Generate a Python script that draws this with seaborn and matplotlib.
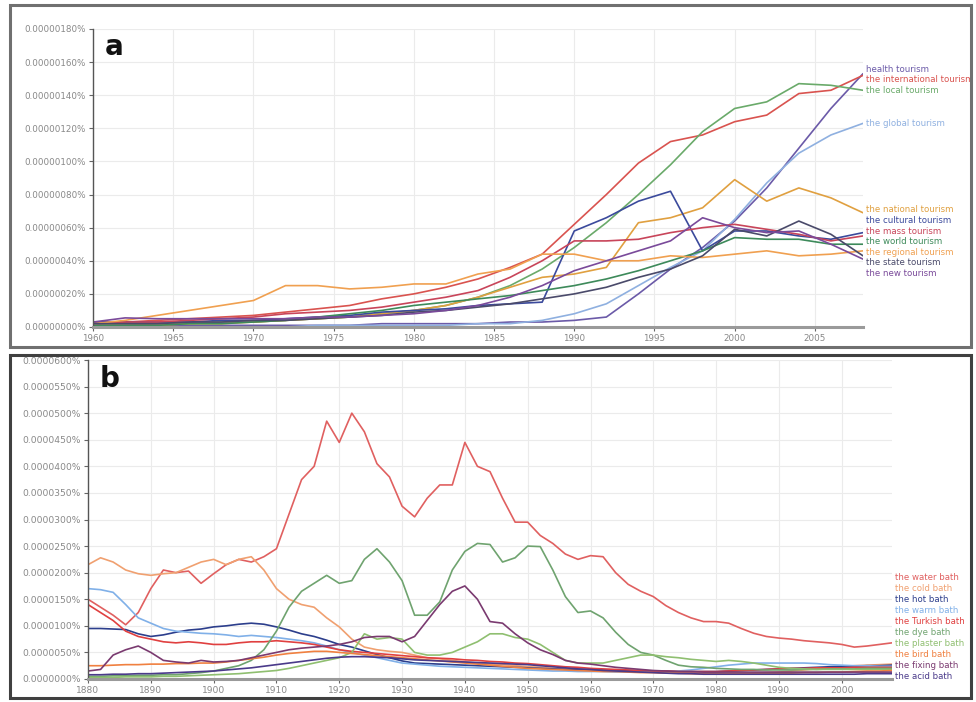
import numpy as np
import pandas as pd
import matplotlib
matplotlib.use("Agg")
import matplotlib.pyplot as plt
import matplotlib.transforms as mtransforms
from matplotlib.patches import Rectangle
from matplotlib.ticker import FuncFormatter, MultipleLocator
import seaborn as sns

# ---------------- data: panel a (units of 0.0000001 %) ----------------
years_a = list(range(1960, 2009, 2))
names_a = ["health tourism", "the international tourism", "the local tourism",
           "the global tourism", "the national tourism", "the cultural tourism",
           "the mass tourism", "the world tourism", "the regional tourism",
           "the state tourism", "the new tourism"]
health_tourism = [0.1,0.1,0.1,0.1,0.1,0.1,0.1,0.1,0.1,0.2,0.2,0.2,0.2,0.3,0.3,0.4,0.6,2.0,3.5,4.8,6.4,8.4,10.8,13.2,15.3]
international_tourism = [0.3,0.3,0.4,0.5,0.6,0.7,0.9,1.1,1.3,1.7,2.0,2.4,2.9,3.6,4.4,6.2,8.0,9.9,11.2,11.6,12.4,12.8,14.1,14.3,15.2]
local_tourism = [0.1,0.1,0.2,0.2,0.3,0.3,0.4,0.5,0.6,0.8,1.0,1.3,1.8,2.5,3.5,4.8,6.3,8.0,9.8,11.8,13.2,13.6,14.7,14.6,14.3]
global_tourism = [0.0,0.0,0.0,0.0,0.0,0.0,0.0,0.1,0.1,0.1,0.1,0.1,0.2,0.2,0.4,0.8,1.4,2.5,3.6,4.6,6.5,8.7,10.5,11.6,12.3]
national_tourism = [0.1,0.1,0.1,0.2,0.2,0.3,0.4,0.5,0.6,0.8,1.0,1.3,1.8,2.4,3.0,3.2,3.6,6.3,6.6,7.2,8.9,7.6,8.4,7.8,6.9]
cultural_tourism = [0.3,0.3,0.3,0.3,0.4,0.4,0.5,0.6,0.7,0.9,1.0,1.1,1.3,1.4,1.5,5.8,6.6,7.6,8.2,4.6,5.8,5.8,5.5,5.3,5.7]
mass_tourism = [0.2,0.3,0.3,0.4,0.5,0.6,0.8,0.9,1.0,1.2,1.5,1.8,2.2,3.0,4.0,5.2,5.2,5.3,5.7,6.0,6.2,5.9,5.6,5.2,5.5]
world_tourism = [0.1,0.1,0.1,0.2,0.2,0.3,0.4,0.6,0.8,1.0,1.3,1.5,1.7,1.9,2.2,2.5,2.9,3.4,4.0,4.6,5.4,5.3,5.3,5.0,5.0]
regional_tourism = [0.2,0.4,0.7,1.0,1.3,1.6,2.5,2.5,2.3,2.4,2.6,2.6,3.2,3.5,4.4,4.4,4.0,4.0,4.3,4.2,4.4,4.6,4.3,4.4,4.6]
state_tourism = [0.2,0.2,0.2,0.3,0.3,0.4,0.4,0.5,0.6,0.7,0.9,1.0,1.2,1.4,1.7,2.0,2.4,3.0,3.5,4.3,5.9,5.5,6.4,5.6,4.3]
new_tourism = [0.3,0.55,0.5,0.5,0.5,0.5,0.5,0.6,0.6,0.7,0.8,1.0,1.3,1.8,2.5,3.4,4.0,4.6,5.2,6.6,6.0,5.7,5.8,5.0,4.1]
series_a = [health_tourism, international_tourism, local_tourism, global_tourism,
            national_tourism, cultural_tourism, mass_tourism, world_tourism,
            regional_tourism, state_tourism, new_tourism]
ticks_a_x = list(range(1960, 2006, 5))

# ---------------- data: panel b (units of 0.000001 %) ----------------
years_b = list(range(1880, 2009, 2))
names_b = ["the water bath", "the cold bath", "the hot bath", "the warm bath",
           "the Turkish bath", "the dye bath", "the plaster bath", "the bird bath",
           "the fixing bath", "the acid bath"]
water_bath = [15.0,13.5,12.0,10.2,12.5,17.0,20.5,20.0,20.3,18.0,
              19.8,21.5,22.5,22.0,23.0,24.5,31.0,37.5,40.0,48.5,
              44.5,50.0,46.5,40.5,38.0,32.5,30.5,34.0,36.5,36.5,
              44.5,40.0,39.0,34.0,29.5,29.5,27.0,25.5,23.5,22.5,
              23.2,23.0,20.0,17.8,16.5,15.5,13.8,12.5,11.5,10.8,
              10.8,10.5,9.5,8.6,8.0,7.7,7.5,7.2,7.0,6.8,
              6.5,6.0,6.2,6.5,6.8]
cold_bath = [21.5,22.8,22.0,20.5,19.8,19.5,19.8,20.0,21.0,22.0,
             22.5,21.5,22.5,23.0,20.5,17.0,15.0,14.0,13.5,11.5,
             9.8,7.5,6.0,5.5,5.2,5.0,4.5,4.0,3.8,3.5,
             3.2,3.0,2.8,2.7,2.5,2.3,2.2,2.0,1.9,1.8,
             1.7,1.6,1.5,1.4,1.3,1.3,1.2,1.1,1.1,1.0,
             1.0,1.0,1.0,1.1,1.2,1.3,1.5,1.7,1.9,2.1,
             2.3,2.5,2.6,2.7,2.8]
hot_bath = [9.5,9.5,9.4,9.3,8.5,8.0,8.3,8.8,9.2,9.4,
            9.8,10.0,10.3,10.5,10.3,9.8,9.2,8.5,8.0,7.3,
            6.5,6.0,5.3,4.6,4.0,3.4,3.0,2.9,2.8,2.7,
            2.6,2.5,2.4,2.3,2.2,2.1,2.0,1.9,1.8,1.8,
            1.7,1.7,1.6,1.6,1.5,1.5,1.5,1.4,1.4,1.4,
            1.4,1.5,1.6,1.7,1.8,1.9,2.0,2.1,2.2,2.3,
            2.4,2.4,2.5,2.5,2.6]
warm_bath = [17.0,16.8,16.3,14.0,11.5,10.5,9.5,9.0,8.8,8.6,
             8.5,8.3,8.0,8.2,8.0,7.8,7.5,7.2,6.8,6.2,
             5.5,5.0,4.5,4.0,3.5,3.0,2.8,2.6,2.4,2.3,
             2.2,2.1,2.0,1.9,1.8,1.7,1.6,1.5,1.5,1.4,
             1.4,1.4,1.3,1.3,1.3,1.3,1.4,1.5,1.7,2.0,
             2.3,2.6,2.8,3.0,3.0,3.0,3.0,3.0,2.9,2.7,
             2.6,2.5,2.5,2.4,2.4]
turkish_bath = [14.0,12.5,11.0,9.0,8.0,7.5,7.0,6.8,7.0,6.8,
                6.5,6.5,6.8,7.0,7.0,7.2,7.0,6.8,6.5,6.0,
                5.5,5.2,5.0,4.8,4.6,4.4,4.2,4.0,3.9,3.8,
                3.6,3.5,3.3,3.2,3.0,2.9,2.7,2.5,2.3,2.2,
                2.0,1.9,1.8,1.7,1.6,1.5,1.5,1.4,1.4,1.4,
                1.4,1.5,1.6,1.7,1.8,1.9,2.0,2.0,2.1,2.1,
                2.1,2.2,2.2,2.2,2.2]
dye_bath = [0.5,0.5,0.6,0.6,0.7,0.7,0.8,0.8,1.0,1.2,
            1.5,2.0,2.5,3.5,5.5,9.0,13.5,16.5,18.0,19.5,
            18.0,18.5,22.5,24.5,22.0,18.5,12.0,12.0,14.5,20.5,
            24.0,25.5,25.3,22.0,22.8,25.0,24.9,20.5,15.5,12.5,
            12.8,11.5,8.8,6.5,5.0,4.5,3.5,2.6,2.3,2.2,
            2.0,1.9,1.8,1.8,1.7,1.7,1.7,1.8,1.8,1.9,
            1.9,1.9,2.0,2.0,2.0]
plaster_bath = [0.3,0.3,0.3,0.4,0.4,0.4,0.5,0.5,0.6,0.7,
                0.8,0.9,1.0,1.2,1.4,1.6,2.0,2.5,3.0,3.5,
                4.0,5.0,8.5,7.5,7.8,7.5,5.0,4.5,4.5,5.0,
                6.0,7.0,8.5,8.5,7.8,7.5,6.5,5.0,3.5,3.0,
                3.0,3.0,3.5,4.0,4.5,4.5,4.2,4.0,3.7,3.5,
                3.3,3.5,3.3,3.0,2.6,2.2,2.0,1.9,1.8,1.8,
                1.8,1.8,1.8,1.8,1.8]
bird_bath = [2.5,2.5,2.6,2.7,2.7,2.8,2.8,2.9,2.9,3.0,
             3.0,3.2,3.5,3.8,4.1,4.5,4.8,5.0,5.2,5.2,
             5.0,4.8,4.6,4.4,4.2,4.0,3.8,3.6,3.4,3.2,
             3.0,2.8,2.6,2.4,2.2,2.0,1.9,1.8,1.7,1.6,
             1.5,1.4,1.4,1.3,1.2,1.2,1.1,1.1,1.0,1.0,
             1.0,1.0,1.0,1.0,1.0,1.1,1.1,1.2,1.2,1.3,
             1.3,1.4,1.5,1.5,1.6]
fixing_bath = [1.5,1.8,4.5,5.5,6.2,5.0,3.5,3.2,3.0,3.5,
               3.2,3.3,3.5,4.0,4.5,5.0,5.5,5.8,6.0,6.2,
               6.5,7.0,7.8,8.0,8.0,7.0,8.0,11.0,14.0,16.5,
               17.5,15.0,10.8,10.5,8.5,6.8,5.5,4.6,3.5,3.0,
               2.8,2.5,2.2,2.0,1.8,1.6,1.5,1.4,1.4,1.3,
               1.3,1.3,1.3,1.3,1.3,1.3,1.3,1.3,1.3,1.3,
               1.3,1.3,1.3,1.3,1.3]
acid_bath = [0.8,0.8,0.9,0.9,1.0,1.0,1.1,1.2,1.3,1.4,
             1.5,1.7,1.9,2.1,2.4,2.7,3.0,3.3,3.6,3.9,
             4.1,4.2,4.2,4.1,4.0,3.8,3.6,3.5,3.4,3.3,
             3.2,3.1,3.0,2.9,2.8,2.7,2.5,2.3,2.1,1.9,
             1.8,1.6,1.5,1.4,1.3,1.2,1.1,1.0,1.0,0.9,
             0.9,0.9,0.9,0.9,0.9,0.9,0.9,0.9,0.9,0.9,
             0.9,0.9,1.0,1.0,1.0]
series_b = [water_bath, cold_bath, hot_bath, warm_bath, turkish_bath, dye_bath,
            plaster_bath, bird_bath, fixing_bath, acid_bath]
ticks_b_x = list(range(1880, 2001, 10))

# ---------------- styles ----------------
colors_a = ["#6b5aa8", "#d9534f", "#6aaa6a", "#8fb0e0", "#e0a040", "#3b4a9c",
            "#c8455a", "#3d8a5a", "#f0a050", "#4a4a6a", "#7a4a9a"]
colors_b = ["#e06060", "#f0a070", "#2c3e8c", "#80b0e8", "#e04040", "#6fa36f",
            "#8fbf70", "#f08040", "#7a3a70", "#4a3a8a"]


def long_df(years, names, series):
    rows = []
    for n, vals in zip(names, series):
        for y, v in zip(years, vals):
            rows.append((y, v, n))
    return pd.DataFrame(rows, columns=["year", "value", "phrase"])


def spread(targets, gap, lo):
    order = sorted(range(len(targets)), key=lambda i: -targets[i])
    blocks = [[i] for i in order]

    def pos(block):
        m = np.mean([targets[i] for i in block])
        n = len(block)
        return [m + gap * ((n - 1) / 2 - k) for k in range(n)]

    changed = True
    while changed:
        changed = False
        for j in range(len(blocks) - 1):
            if pos(blocks[j])[-1] - pos(blocks[j + 1])[0] < gap - 1e-9:
                blocks[j] = blocks[j] + blocks[j + 1]
                del blocks[j + 1]
                changed = True
                break
    result = {}
    flat = []
    for b in blocks:
        for i, p in zip(b, pos(b)):
            flat.append([i, p])
    for k in range(len(flat) - 1, -1, -1):
        floor = lo if k == len(flat) - 1 else flat[k + 1][1] + gap
        flat[k][1] = max(flat[k][1], floor)
    for i, p in flat:
        result[i] = p
    return result


sns.set_theme(style="white")
plt.rcParams["font.family"] = ["DejaVu Sans"]

fig = plt.figure(figsize=(9.76, 7.02), dpi=100)
W, H = 976.0, 702.0

# panel frames
fig.patches.append(Rectangle((10 / W, 1 - 347 / H), 961 / W, 342 / H, transform=fig.transFigure,
                             fill=False, ec="#707070", lw=2.2, zorder=0))
fig.patches.append(Rectangle((10 / W, 1 - 698 / H), 961 / W, 343 / H, transform=fig.transFigure,
                             fill=False, ec="#404040", lw=2.2, zorder=0))

axa = fig.add_axes([93 / W, 1 - 327 / H, 770 / W, 298 / H])
axb = fig.add_axes([88 / W, 1 - 679 / H, 804 / W, 319 / H])

panels = [
    (axa, years_a, names_a, series_a, colors_a, (1960, 2008), 18, 2, ticks_a_x,
     lambda v, p: f"{v * 1e-7:.8f}%", 0.64, 0.0, 6.3, "a"),
    (axb, years_b, names_b, series_b, colors_b, (1880, 2008), 60, 5, ticks_b_x,
     lambda v, p: f"{v * 1e-6:.7f}%", 2.08, 0.4, 6.6, "b"),
]

for (ax, years, names, series, colors, xlim, ymax, ystep, xticks, fmt,
     gap, lo, tfs, letter) in panels:
    df = long_df(years, names, series)
    sns.lineplot(data=df, x="year", y="value", hue="phrase", hue_order=names,
                 palette=dict(zip(names, colors)), ax=ax, legend=False,
                 errorbar=None, linewidth=1.2)
    ax.set_xlim(*xlim)
    ax.set_ylim(0, ymax)
    ax.set_xlabel("")
    ax.set_ylabel("")
    ax.set_xticks(xticks)
    ax.yaxis.set_major_locator(MultipleLocator(ystep))
    ax.yaxis.set_major_formatter(FuncFormatter(fmt))
    ax.grid(True, color="#ebebeb", lw=0.8)
    ax.set_axisbelow(True)
    for s in ["top", "right"]:
        ax.spines[s].set_visible(False)
    ax.spines["left"].set_color("#555555")
    ax.spines["left"].set_linewidth(1.0)
    ax.spines["bottom"].set_color("#9a9a9a")
    ax.spines["bottom"].set_linewidth(2.2)
    ax.tick_params(axis="both", which="major", direction="out", length=3, width=0.8,
                   color="#666666", labelcolor="#888888", labelsize=tfs, pad=2,
                   left=True, bottom=True)
    ax.set_facecolor("white")

    # end-of-line labels (Ngram style)
    ends = [s[-1] for s in series]
    lab = spread(ends, gap, lo)
    trans = mtransforms.blended_transform_factory(ax.transAxes, ax.transData)
    for i, n in enumerate(names):
        ax.text(1.004, lab[i], n, transform=trans, color=colors[i], fontsize=6.2,
                va="center", ha="left", clip_on=False)

    ax.text(0.015, 0.985, letter, transform=ax.transAxes, fontsize=20,
            fontweight="bold", color="#111111", va="top", ha="left")

fig.savefig("out.png", dpi=100, facecolor="white")
